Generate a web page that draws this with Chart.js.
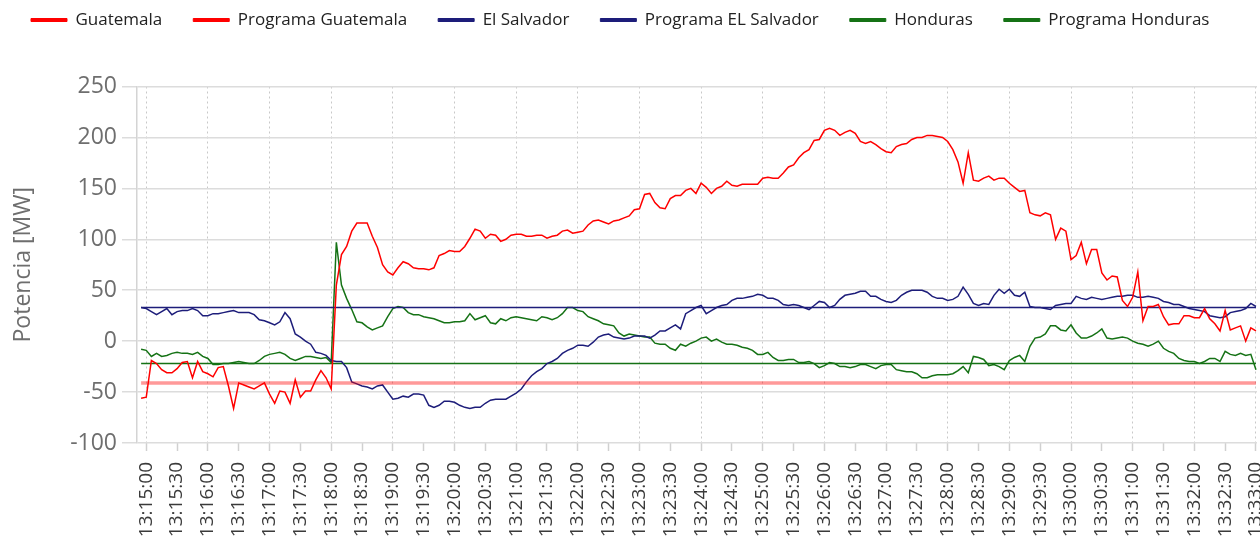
<!DOCTYPE html>
<html>
<head>
<meta charset="utf-8">
<script src="https://cdn.jsdelivr.net/npm/chart.js@4.4.1/dist/chart.umd.min.js"></script>
<style>
  html, body { margin: 0; padding: 0; background: #fff; }
  #wrap { width: 1260px; height: 542px; }
</style>
</head>
<body>
<div id="wrap"><canvas id="myChart"></canvas></div>
<script>
// muestras cada 5 s, en segundos desde 13:15:00
const START_SEC = -5;
const STEP_SEC = 5;

const tickLabels = [
    '13:15:00', '13:15:30', '13:16:00', '13:16:30', '13:17:00', '13:17:30', '13:18:00', '13:18:30',
    '13:19:00', '13:19:30', '13:20:00', '13:20:30', '13:21:00', '13:21:30', '13:22:00', '13:22:30',
    '13:23:00', '13:23:30', '13:24:00', '13:24:30', '13:25:00', '13:25:30', '13:26:00', '13:26:30',
    '13:27:00', '13:27:30', '13:28:00', '13:28:30', '13:29:00', '13:29:30', '13:30:00', '13:30:30',
    '13:31:00', '13:31:30', '13:32:00', '13:32:30', '13:33:00'
];
const yTicks = [-100, -50, 0, 50, 100, 150, 200, 250];

// una fila por minuto
const guatemala = [
    -56,
    -55, -19, -22, -28, -31, -31, -27, -21, -20, -36, -20, -30,
    -32, -35, -26, -25, -44, -66, -41, -43, -45, -47, -44, -41,
    -52, -61, -49, -50, -61, -38, -55, -49, -49, -38, -29, -36,
    -47, 55, 85, 93, 108, 116, 116, 116, 103, 92, 75, 68,
    65, 72, 78, 76, 72, 71, 71, 70, 72, 84, 86, 89,
    88, 88, 93, 101, 110, 108, 101, 105, 104, 98, 100, 104,
    105, 105, 103, 103, 104, 104, 101, 103, 104, 108, 109, 106,
    107, 108, 114, 118, 119, 117, 115, 118, 119, 121, 123, 129,
    130, 144, 145, 136, 131, 130, 140, 143, 143, 148, 150, 145,
    155, 151, 145, 150, 152, 157, 153, 152, 154, 154, 154, 154,
    160, 161, 160, 160, 165, 171, 173, 180, 185, 188, 197, 198,
    207, 209, 207, 202, 205, 207, 204, 196, 194, 196, 193, 189,
    186, 185, 191, 193, 194, 198, 200, 200, 202, 202, 201, 200,
    196, 188, 176, 155, 185, 158, 157, 160, 162, 158, 160, 160,
    155, 151, 147, 148, 126, 124, 123, 126, 124, 100, 111, 108,
    80, 84, 97, 76, 90, 90, 67, 60, 64, 63, 40, 34,
    43, 68, 20, 34, 34, 36, 24, 16, 17, 17, 25, 25,
    23, 23, 32, 22, 17, 10, 30, 11, 13, 15, 0, 13,
    10
];

const elSalvador = [
    33,
    32, 29, 26, 29, 32, 26, 29, 30, 30, 32, 30, 25,
    25, 27, 27, 28, 29, 30, 28, 28, 28, 26, 21, 20,
    18, 16, 19, 28, 22, 7, 4, 0, -3, -11, -12, -14,
    -19, -20, -20, -26, -40, -42, -44, -45, -47, -44, -43, -50,
    -57, -56, -54, -55, -52, -52, -53, -63, -65, -63, -59, -59,
    -60, -63, -65, -66, -65, -65, -61, -58, -57, -57, -57, -54,
    -51, -47, -40, -34, -30, -27, -22, -20, -17, -12, -9, -7,
    -4, -4, -5, -1, 4, 6, 7, 4, 3, 2, 3, 5,
    5, 5, 3, 6, 10, 10, 13, 16, 12, 27, 30, 33,
    35, 27, 30, 33, 35, 36, 40, 42, 42, 43, 44, 46,
    45, 42, 42, 40, 36, 35, 36, 35, 33, 31, 35, 39,
    38, 33, 35, 41, 45, 46, 47, 49, 49, 44, 44, 41,
    39, 38, 40, 45, 48, 50, 50, 50, 48, 44, 42, 42,
    40, 41, 44, 53, 46, 37, 35, 37, 36, 45, 51, 47,
    51, 45, 44, 48, 34, 33, 33, 32, 31, 35, 36, 37,
    37, 44, 42, 41, 43, 42, 41, 42, 43, 44, 44, 45,
    45, 43, 43, 44, 43, 42, 39, 38, 36, 36, 34, 32,
    31, 30, 29, 25, 24, 23, 24, 28, 29, 30, 32, 37,
    34
];

const honduras = [
    -8,
    -9, -15, -12, -15, -14, -12, -11, -12, -12, -13, -11, -15,
    -17, -23, -23, -22, -22, -21, -20, -21, -22, -22, -19, -15,
    -13, -12, -11, -13, -17, -19, -17, -15, -15, -16, -17, -16,
    -21, 97, 55, 42, 31, 19, 18, 14, 11, 13, 15, 24,
    32, 34, 33, 28, 26, 26, 24, 23, 22, 20, 18, 18,
    19, 19, 20, 27, 21, 23, 25, 18, 17, 22, 20, 23,
    24, 23, 22, 21, 20, 24, 23, 21, 23, 27, 33, 33,
    30, 29, 24, 22, 20, 17, 16, 15, 8, 5, 7, 6,
    5, 4, 4, -2, -3, -3, -7, -9, -3, -5, -2, 0,
    3, 4, 0, 2, -1, -3, -3, -4, -6, -7, -9, -13,
    -13, -11, -16, -19, -19, -18, -18, -21, -21, -20, -22, -26,
    -24, -21, -22, -25, -25, -26, -25, -23, -23, -25, -27, -24,
    -23, -23, -28, -29, -30, -30, -32, -36, -36, -34, -33, -33,
    -33, -32, -29, -25, -31, -15, -16, -18, -24, -23, -25, -28,
    -19, -16, -14, -20, -5, 3, 4, 7, 15, 15, 11, 10,
    16, 8, 3, 3, 5, 8, 12, 3, 2, 3, 4, 3,
    0, -2, -3, -5, -3, 0, -7, -10, -12, -17, -19, -20,
    -20, -22, -20, -17, -17, -20, -10, -13, -14, -12, -14, -13,
    -28
];

// programas: valor al inicio y al final del periodo
const programaGuatemala = [-41, -41];
const programaElSalvador = [33, 33];
const programaHonduras = [-22, -22];

const RED = '#ff0000';
const NAVY = '#1d1d7a';
const GREEN = '#157215';

const segundos = guatemala.map((v, i) => START_SEC + i * STEP_SEC);
const extremos = [segundos[0], segundos[segundos.length - 1]];

function programa(valores) {
    return valores.map((v, i) => ({x: extremos[i], y: v}));
}

// alto fijo para la leyenda
const legendSpace = {
    id: 'legendSpace',
    beforeInit(chart) {
        const fit = chart.legend.fit;
        chart.legend.fit = function () {
            fit.bind(chart.legend)();
            this.height = 106;
        };
    }
};

const CHART = document.getElementById('myChart');

const myChart = new Chart(CHART, {
    type: 'line',
    data: {
        labels: segundos,
        datasets: [
            {label: 'Guatemala', data: guatemala, borderColor: RED, backgroundColor: RED, borderWidth: 1.5},
            {label: 'Programa Guatemala', data: programa(programaGuatemala), borderColor: 'rgba(255, 0, 0, 0.4)', backgroundColor: RED, legendColor: RED, borderWidth: 3.5},
            {label: 'El Salvador', data: elSalvador, borderColor: NAVY, backgroundColor: NAVY, borderWidth: 1.5},
            {label: 'Programa EL Salvador', data: programa(programaElSalvador), borderColor: NAVY, backgroundColor: NAVY, borderWidth: 1.5},
            {label: 'Honduras', data: honduras, borderColor: GREEN, backgroundColor: GREEN, borderWidth: 1.5},
            {label: 'Programa Honduras', data: programa(programaHonduras), borderColor: GREEN, backgroundColor: GREEN, borderWidth: 1.5}
        ]
    },
    options: {
        responsive: true,
        maintainAspectRatio: false,
        animation: false,
        elements: {
            point: {radius: 0},
            line: {tension: 0}
        },
        layout: {
            padding: {top: -19.5, left: 0, right: 3, bottom: 0}
        },
        plugins: {
            tooltip: {enabled: false},
            legend: {
                position: 'top',
                align: 'start',
                labels: {
                    boxWidth: 36,
                    boxHeight: 3,
                    padding: 31,
                    color: '#222',
                    font: {family: 'Open Sans', size: 17},
                    generateLabels: function (chart) {
                        const items = Chart.defaults.plugins.legend.labels.generateLabels(chart);
                        items.forEach(function (item) {
                            const ds = chart.data.datasets[item.datasetIndex];
                            const c = ds.legendColor || ds.borderColor;
                            item.fillStyle = c;
                            item.strokeStyle = c;
                            item.lineWidth = 1;
                        });
                        return items;
                    }
                }
            }
        },
        scales: {
            x: {
                type: 'linear',
                min: -9,
                max: 1081,
                afterBuildTicks: function (axis) {
                    axis.ticks = tickLabels.map((t, i) => ({value: i * 30}));
                },
                afterFit: function (axis) {
                    axis.height = 99;
                    axis.paddingRight = 0;
                    axis.paddingLeft = 0;
                },
                ticks: {
                    autoSkip: false,
                    minRotation: 90,
                    maxRotation: 90,
                    padding: 11,
                    color: '#3a3a3a',
                    font: {family: 'Open Sans', size: 19},
                    callback: (value, index) => tickLabels[index]
                },
                grid: {
                    color: (ctx) => (ctx.tick && ctx.tick.value % 60 === 0) ? '#c8c8c8' : 'rgba(0,0,0,0)',
                    lineWidth: 1,
                    tickColor: '#d0d0d0',
                    tickLength: 8,
                    tickWidth: 1.5,
                    tickBorderDash: []
                },
                border: {display: false, dash: [2, 3]}
            },
            y: {
                min: -100,
                max: 250,
                afterBuildTicks: function (axis) {
                    axis.ticks = yTicks.map(v => ({value: v}));
                },
                afterFit: function (axis) {
                    axis.width = 137;
                },
                ticks: {
                    padding: 5,
                    color: '#6e6e6e',
                    font: {family: 'Open Sans', size: 23}
                },
                grid: {
                    color: '#dcdcdc',
                    lineWidth: 1.5,
                    tickLength: 15
                },
                border: {display: true, color: '#d4d4d4', width: 1.5},
                title: {
                    display: true,
                    text: 'Potencia [MW]',
                    color: '#6e6e6e',
                    font: {family: 'Open Sans', size: 23},
                    padding: {top: 10, bottom: 0}
                }
            }
        }
    },
    plugins: [legendSpace]
});
</script>
</body>
</html>
